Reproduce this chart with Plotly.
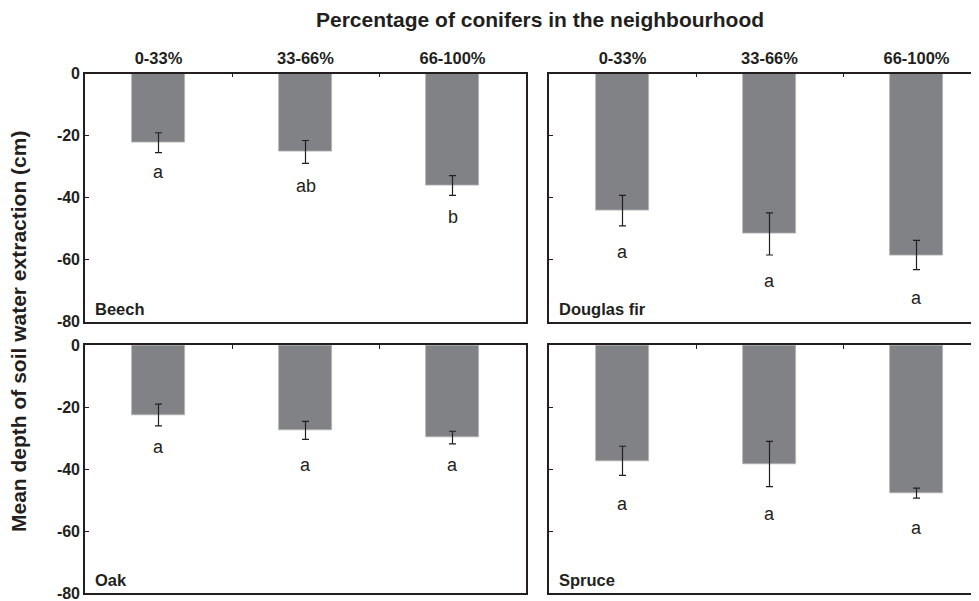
import plotly.graph_objects as go

categories = ["0-33%", "33-66%", "66-100%"]
species = ["Beech", "Douglas fir", "Oak", "Spruce"]

beech_mean = [-22.3, -25.3, -36.1]
beech_se = [3.2, 3.7, 3.2]
beech_letters = ["a", "ab", "b"]
beech_letter_y = [-31.7, -36.2, -46.2]

douglas_mean = [-44.2, -51.7, -58.5]
douglas_se = [4.9, 6.8, 4.7]
douglas_letters = ["a", "a", "a"]
douglas_letter_y = [-57.5, -66.8, -72.2]

oak_mean = [-22.5, -27.5, -29.8]
oak_se = [3.5, 2.9, 2.05]
oak_letters = ["a", "a", "a"]
oak_letter_y = [-32.9, -38.6, -38.6]

spruce_mean = [-37.3, -38.3, -47.7]
spruce_se = [4.7, 7.3, 1.6]
spruce_letters = ["a", "a", "a"]
spruce_letter_y = [-51.1, -54.3, -58.9]

y_ticks = [0, -20, -40, -60, -80]

# page is 979x601; the html body adds an 8px margin, so the figure is offset by 8px
OFF = 8
W, H = 979 - OFF, 601 - OFF
FONT = "Liberation Sans, Arial, sans-serif"
DARK = "#231f20"

def px_x(a, b):
    return [(a - OFF) / W, min((b - OFF) / W, 1.0)]

def px_y(top, bottom):
    return [1 - (bottom - OFF) / H, 1 - (top - OFF) / H]

panels = [
    ("Beech", beech_mean, beech_se, beech_letters, beech_letter_y, 1, (85, 526), (73.5, 321.7), True, True),
    ("Douglas fir", douglas_mean, douglas_se, douglas_letters, douglas_letter_y, 2, (549, 979), (73.5, 321.7), False, True),
    ("Oak", oak_mean, oak_se, oak_letters, oak_letter_y, 3, (85, 526), (345.2, 593.2), True, False),
    ("Spruce", spruce_mean, spruce_se, spruce_letters, spruce_letter_y, 4, (549, 979), (345.2, 593.2), False, False),
]

fig = go.Figure()
layout = dict()
annotations = []

for name, mean, se, letters, ly, k, xd, yd, is_left, is_top in panels:
    xa = "x" if k == 1 else f"x{k}"
    ya = "y" if k == 1 else f"y{k}"
    fig.add_trace(go.Bar(
        x=categories, y=mean, xaxis=xa, yaxis=ya, width=0.36,
        marker=dict(color="#818286", line=dict(color="#b4b4b6", width=0.8)),
        error_y=dict(type="data", array=se, visible=True, color=DARK, thickness=1.2, width=3.5),
        showlegend=False, hoverinfo="skip",
    ))
    width_px = xd[1] - xd[0]
    xr = [-0.5, -0.5 + 3 * width_px / 441.0]
    xkey = "xaxis" if k == 1 else f"xaxis{k}"
    ykey = "yaxis" if k == 1 else f"yaxis{k}"
    layout[xkey] = dict(
        domain=px_x(*xd), anchor=ya, type="category", range=xr, side="top",
        showline=True, mirror=True, linecolor=DARK, linewidth=1.6,
        ticks="inside", tickson="boundaries", ticklen=4, tickcolor=DARK, tickwidth=1,
        showticklabels=is_top, showgrid=False, zeroline=False, automargin=False,
        ticklabelstandoff=1,
        tickfont=dict(family=FONT, size=16.5, color=DARK, weight="bold"),
    )
    layout[ykey] = dict(
        domain=px_y(*yd), anchor=xa, range=[-80, 0],
        tickvals=y_ticks, ticktext=[str(v) for v in y_ticks],
        showline=True, mirror=is_left, linecolor=DARK, linewidth=1.6,
        ticks="inside", ticklen=4, tickcolor=DARK, tickwidth=1,
        showticklabels=is_left, showgrid=False, zeroline=False, automargin=False,
        ticklabeloverflow="allow", ticklabelstandoff=0,
        tickfont=dict(family=FONT, size=16, color=DARK, weight="bold"),
    )
    annotations.append(dict(
        text=name, xref=f"{xa} domain", yref=f"{ya} domain", x=0.0, y=0.0,
        xanchor="left", yanchor="bottom", xshift=8, yshift=2, showarrow=False,
        font=dict(family=FONT, size=16.5, color=DARK, weight="bold"),
    ))
    for c, lt, yy in zip(categories, letters, ly):
        annotations.append(dict(
            text=lt, xref=xa, yref=ya, x=c, y=yy, xanchor="center", yanchor="middle",
            showarrow=False, font=dict(family=FONT, size=18, color=DARK),
        ))

annotations.append(dict(
    text="Percentage of conifers in the neighbourhood", xref="paper", yref="paper",
    x=(540 - OFF) / W, y=1 - (19 - OFF) / H, xanchor="center", yanchor="middle", showarrow=False,
    font=dict(family=FONT, size=21, color=DARK, weight="bold"),
))
annotations.append(dict(
    text="Mean depth of soil water extraction (cm)", xref="paper", yref="paper",
    x=(18 - OFF) / W, y=1 - (332 - OFF) / H, xanchor="center", yanchor="middle", showarrow=False,
    textangle=-90, font=dict(family=FONT, size=21, color=DARK, weight="bold"),
))

fig.update_layout(
    width=W, height=H, margin=dict(l=0, r=0, t=0, b=0),
    paper_bgcolor="white", plot_bgcolor="white",
    annotations=annotations, bargap=0, **layout,
)

fig.write_html("out.html")
